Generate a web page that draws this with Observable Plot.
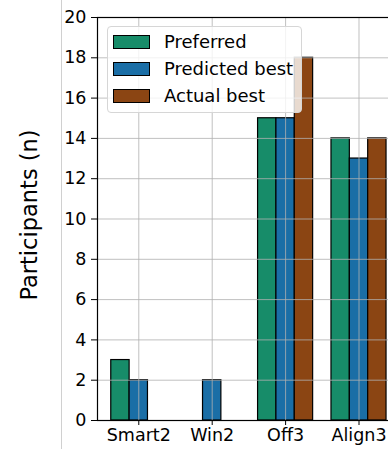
<!DOCTYPE html>
<html>
<head>
<meta charset="utf-8">
<script src="https://cdn.jsdelivr.net/npm/d3@7"></script>
<script src="https://cdn.jsdelivr.net/npm/@observablehq/plot@0.6"></script>
<style>
  html, body { margin: 0; padding: 0; background: #fff; overflow: hidden; }
  #wrap { position: relative; width: 388px; height: 449px; overflow: hidden; font-family: "DejaVu Sans", sans-serif; }
  #chart svg { max-width: none !important; display: block; }
  #edge { position: absolute; left: 61px; top: 0; width: 1px; height: 449px; background: #d0d0d0; }
  #legend { position: absolute; left: 107px; top: 26px; width: 195px; height: 87px;
    background: rgba(255,255,255,0.8); border: 1px solid #d6d6d6; border-radius: 4px; box-sizing: border-box; }
  .row { position: absolute; left: 5px; height: 14px; display: flex; align-items: center; }
  .sw { width: 35px; height: 12px; border: 1px solid #000; margin-right: 14px; box-sizing: content-box; }
  .lab { font-size: 18px; color: #000; white-space: nowrap; line-height: 14px; }
</style>
</head>
<body>
<div id="wrap"><div id="edge"></div><div id="chart"></div><div id="legend"></div></div>
<script>
const categories = ["Smart2", "Win2", "Off3", "Align3"];
const seriesNames = ["Preferred", "Predicted best", "Actual best"];
const preferred = [3, 0, 15, 14];
const predictedBest = [2, 2, 15, 13];
const actualBest = [0, 0, 18, 14];
const seriesColors = ["#178c69", "#1a6ea6", "#8b4513"];
const yTicks = [0, 2, 4, 6, 8, 10, 12, 14, 16, 18, 20];

const seriesValues = [preferred, predictedBest, actualBest];
const barWidth = 0.25;
const rows = [];
categories.forEach((c, i) => {
  seriesValues.forEach((vals, s) => {
    rows.push({i, series: seriesNames[s], s, value: vals[i]});
  });
});

const chart = Plot.plot({
  width: 410,
  height: 449,
  marginLeft: 97,
  marginRight: 10.2,
  marginTop: 17,
  marginBottom: 29,
  style: {fontFamily: "DejaVu Sans, sans-serif", fontSize: "17.5px", color: "#000", background: "transparent", overflow: "visible", maxWidth: "none"},
  x: {type: "linear", domain: [-0.5625, 3.5625], axis: null},
  y: {domain: [0, 20], axis: null},
  color: {domain: seriesNames, range: seriesColors},
  marks: [
    Plot.rect(rows, {
      x1: d => d.i + (d.s - 1) * barWidth - barWidth / 2,
      x2: d => d.i + (d.s - 1) * barWidth + barWidth / 2,
      y1: 0,
      y2: "value",
      fill: "series",
      stroke: "#000",
      strokeWidth: 1.2
    }),
    Plot.gridY(yTicks, {stroke: "#b0b0b0", strokeOpacity: 0.8, strokeWidth: 1}),
    Plot.gridX([0, 1, 2, 3], {stroke: "#b0b0b0", strokeOpacity: 0.8, strokeWidth: 1}),
    Plot.frame({stroke: "#000", strokeWidth: 1.2}),
    Plot.axisY(yTicks, {tickSize: 6, tickPadding: 5, fontSize: 17.5, label: null, stroke: "#000", fill: "#000"}),
    Plot.axisX([0, 1, 2, 3], {tickSize: 5, tickPadding: 3, fontSize: 17.5, label: null, tickFormat: i => categories[i], stroke: "#000", fill: "#000"}),
    Plot.text(["Participants (n)"], {frameAnchor: "left", dx: -68, dy: -4, rotate: -90, fontSize: 22.5, fill: "#000", textAnchor: "middle", lineAnchor: "middle"})
  ]
});
document.getElementById("chart").appendChild(chart);

const legend = document.getElementById("legend");
seriesNames.forEach((name, k) => {
  const row = document.createElement("div");
  row.className = "row";
  row.style.top = (8 + k * 27) + "px";
  const sw = document.createElement("div");
  sw.className = "sw";
  sw.style.background = seriesColors[k];
  const lab = document.createElement("span");
  lab.className = "lab";
  lab.textContent = name;
  row.appendChild(sw);
  row.appendChild(lab);
  legend.appendChild(row);
});
</script>
</body>
</html>
